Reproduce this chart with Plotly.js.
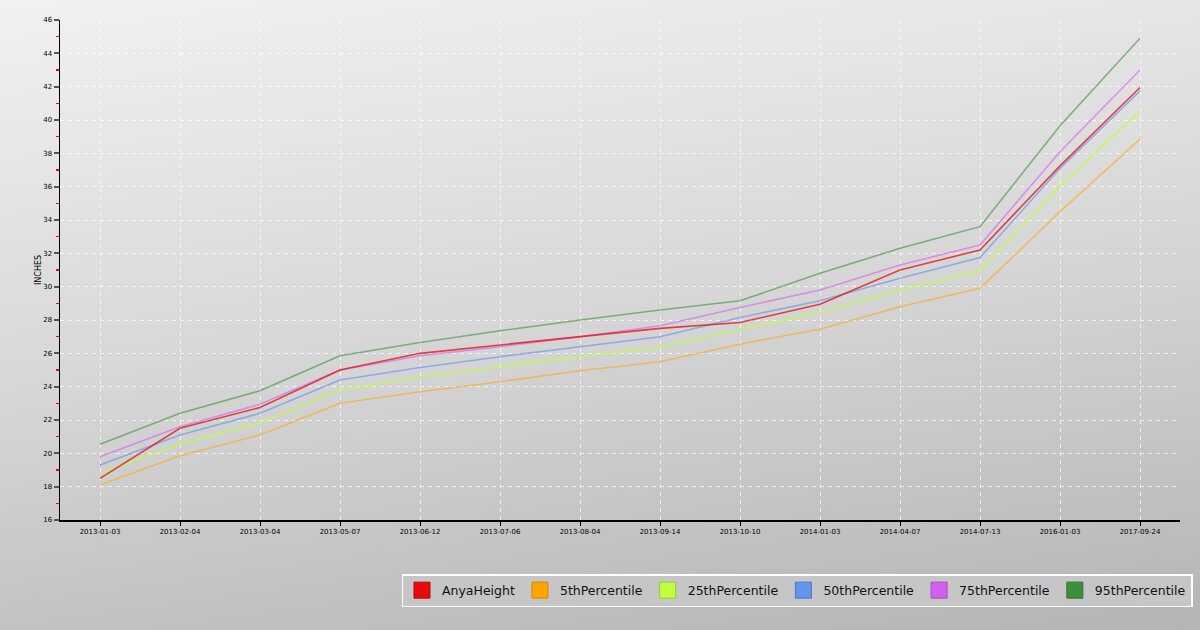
<!DOCTYPE html>
<html>
<head>
<meta charset="utf-8">
<script src="https://cdn.plot.ly/plotly-3.0.1.min.js"></script>
<style>
  html, body { margin: 0; padding: 0; }
  body { width: 1200px; height: 630px; background: linear-gradient(172deg, #f1f1f1 0%, #d6d6d6 50%, #b4b4b4 100%); }
  #chart { width: 1200px; height: 630px; }
</style>
</head>
<body>
<div id="chart"></div>
<script>
const dates = ["2013-01-03","2013-02-04","2013-03-04","2013-05-07","2013-06-12","2013-07-06","2013-08-04","2013-09-14","2013-10-10","2014-01-03","2014-04-07","2014-07-13","2016-01-03","2017-09-24"];
const anyaHeight = [18.5, 21.5, 22.75, 25.0, 26.0, 26.5, 27.0, 27.5, 27.85, 28.95, 31.0, 32.2, 37.25, 41.95];
const p5  = [18.1, 19.85, 21.1, 23.0, 23.7, 24.3, 24.95, 25.5, 26.55, 27.45, 28.8, 29.9, 34.5, 38.85];
const p25 = [18.8, 20.55, 21.85, 23.8, 24.55, 25.2, 25.8, 26.35, 27.45, 28.45, 29.8, 30.95, 36.05, 40.55];
const p50 = [19.3, 21.1, 22.4, 24.4, 25.15, 25.8, 26.4, 27.0, 28.15, 29.15, 30.5, 31.75, 37.1, 41.75];
const p75 = [19.8, 21.6, 22.95, 25.0, 25.85, 26.4, 27.0, 27.65, 28.75, 29.8, 31.3, 32.5, 38.1, 43.0];
const p95 = [20.55, 22.4, 23.75, 25.85, 26.65, 27.35, 28.0, 28.6, 29.15, 30.8, 32.3, 33.6, 39.65, 44.9];

const names = ["AnyaHeight","5thPercentile","25thPercentile","50thPercentile","75thPercentile","95thPercentile"];
const seriesList = [anyaHeight, p5, p25, p50, p75, p95];
const lineColors = ["rgba(232,10,12,0.75)","rgba(255,165,0,0.55)","rgba(190,255,60,0.75)","rgba(100,149,237,0.65)","rgba(210,95,238,0.6)","rgba(60,143,60,0.6)"];
const swatchColors = ["#e80a0c","#ffa500","#bfff3c","#6495ed","#d25fee","#3c8f3c"];
const swatchBorders = ["#b80808","#d08800","#98cc30","#5078c0","#a84cc0","#307230"];

const traces = [];
const order = [1,2,3,4,5,0];
order.forEach(i => {
  traces.push({
    type: "scatter", mode: "lines", x: dates, y: seriesList[i], name: names[i],
    line: {color: lineColors[i], width: 1.6}, showlegend: false, legendgroup: names[i], hoverinfo: "x+y+name"
  });
});
names.forEach((n, i) => {
  traces.push({
    type: "scatter", mode: "markers", x: [dates[0]], y: [null], name: n, legendgroup: n,
    marker: {symbol: "square", size: 16, color: swatchColors[i], line: {color: swatchBorders[i], width: 1}},
    showlegend: true, hoverinfo: "skip"
  });
});

const layout = {
  width: 1200, height: 630,
  paper_bgcolor: "rgba(0,0,0,0)", plot_bgcolor: "rgba(0,0,0,0)",
  margin: {l: 60, r: 20, t: 20, b: 110, autoexpand: false},
  font: {family: "DejaVu Sans, sans-serif", color: "#000"},
  xaxis: {
    type: "category", range: [-0.5, dates.length - 0.5],
    showline: true, linecolor: "#000", linewidth: 1.5,
    ticks: "outside", ticklen: 4, tickcolor: "#000", tickwidth: 1,
    tickfont: {size: 7, family: "DejaVu Sans"},
    showgrid: true, gridcolor: "rgba(255,255,255,0.7)", griddash: "4px,4px", gridwidth: 1,
    zeroline: false, fixedrange: true, automargin: false
  },
  yaxis: {
    range: [16, 46], dtick: 2, tick0: 16,
    showline: true, linecolor: "#000", linewidth: 1.5,
    ticks: "outside", ticklen: 5, tickcolor: "#555", tickwidth: 2,
    tickfont: {size: 7, family: "DejaVu Sans"},
    showgrid: true, gridcolor: "rgba(255,255,255,0.7)", griddash: "4px,4px", gridwidth: 1,
    minor: {dtick: 1, ticks: "outside", ticklen: 3, tickcolor: "#ff0000", tickwidth: 1.5, showgrid: false},
    zeroline: false, fixedrange: true, automargin: false,
    title: {text: "INCHES", font: {size: 8, family: "DejaVu Sans"}, standoff: 0}
  },
  legend: {
    orientation: "h", x: 1.0116, xanchor: "right", y: -0.108, yanchor: "top",
    bgcolor: "#c6c6c6", bordercolor: "#ffffff", borderwidth: 1.5,
    font: {size: 12.5, family: "DejaVu Sans", color: "#111"},
    itemwidth: 30, tracegroupgap: 0, itemclick: false, itemdoubleclick: false
  },
  showlegend: true
};

Plotly.newPlot("chart", traces, layout, {displayModeBar: false, staticPlot: true});
</script>
</body>
</html>
